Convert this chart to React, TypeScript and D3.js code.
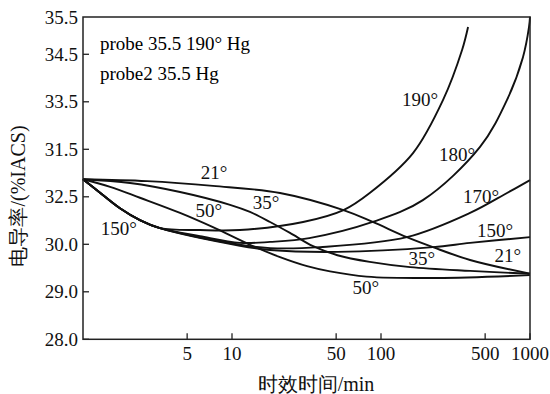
import React from "react";
import * as d3 from "d3";

// x: aging time (min), y: conductivity in the chart's evenly spaced grid units
const t21 = [1, 2.69, 7.45, 21, 56, 88, 149, 223, 396, 1000];
const v21 = [31.37, 31.33, 31.23, 31.08, 30.72, 30.47, 30.15, 29.94, 29.67, 29.38];

const t35 = [1, 2.07, 4.48, 9.7, 13.2, 18, 24.5, 35, 51, 84, 157, 396, 1000];
const v35 = [31.37, 31.29, 31.1, 30.83, 30.68, 30.47, 30.24, 29.96, 29.77, 29.63, 29.52, 29.44, 29.38];

const t50 = [1, 1.52, 2.41, 4.48, 7.45, 13.2, 21, 31.9, 45.5, 80, 238, 1000];
const v50 = [31.37, 31.21, 30.98, 30.66, 30.36, 29.99, 29.73, 29.54, 29.43, 29.32, 29.29, 29.35];

const t150 = [1, 1.24, 1.77, 2.41, 3.29, 11.3, 18, 51, 223, 396, 1000];
const v150 = [31.37, 31.14, 30.76, 30.51, 30.34, 29.97, 29.88, 29.84, 29.94, 30.03, 30.15];

const t170 = [1, 1.24, 1.77, 2.41, 3.29, 11.3, 18, 39, 149, 396, 701, 1000];
const v170 = [31.37, 31.14, 30.76, 30.51, 30.34, 29.99, 29.92, 29.94, 30.15, 30.66, 31.08, 31.35];

const t180 = [1, 1.24, 1.77, 2.41, 3.29, 6.1, 11.3, 18, 33, 88, 191, 462, 701, 897, 985, 1000];
const v180 = [31.37, 31.14, 30.76, 30.51, 30.34, 30.17, 30.03, 30.05, 30.13, 30.47, 30.93, 32.05, 33.04, 33.94, 34.575, 34.79];

const t190 = [1, 1.24, 1.77, 2.41, 3.29, 6.1, 11.3, 30, 56, 84, 164, 261, 350, 384];
const v190 = [31.37, 31.14, 30.76, 30.51, 30.34, 30.3, 30.3, 30.47, 30.72, 31.08, 31.92, 33.04, 34.09, 34.575];

const yTickValues = [28, 29, 30, 31, 32, 33, 34, 34.785];
const yTickLabels = ["28.0", "29.0", "30.0", "32.5", "31.5", "33.5", "34.5", "35.5"];
const xTickValues = [5, 10, 50, 100, 500, 1000];

const labelNames = ["21°", "35°", "50°", "150°", "170°", "180°", "190°", "21°", "35°", "50°", "150°"];
const labelTime = [7.57, 16.9, 7.0, 1.74, 469, 324, 183, 711, 188, 79, 582];
const labelValue = [31.52, 30.89, 30.72, 30.34, 31.0, 31.89, 33.04, 29.77, 29.71, 29.1, 30.28];

const W = 550, H = 394;
const L = 83, R = 530, T = 17, B = 339.3;

export default function App() {
  const x = d3.scaleLog().domain([1, 1000]).range([L, R]);
  const y = d3.scaleLinear().domain([28, 34.785]).range([B, T]);
  const line = d3
    .line<[number, number]>()
    .x((d) => x(d[0]))
    .y((d) => y(d[1]))
    .curve(d3.curveCatmullRom.alpha(0.5));

  const series: [number[], number[]][] = [
    [t21, v21], [t35, v35], [t50, v50], [t150, v150], [t170, v170], [t180, v180], [t190, v190],
  ];

  return (
    <svg width={W} height={H} style={{ position: "absolute", left: 0, top: 0, background: "#fff" }}>
      <text x={100} y={50} fontSize={19} fontFamily="Liberation Serif">probe 35.5 190° Hg</text>
      <text x={100} y={80} fontSize={19} style={{ fontFamily: '"Liberation Serif"' }}>probe2 35.5 Hg</text>
      {yTickValues.map((v, i) => (
        <text key={"y" + v} x={78} y={y(v) + 6.5} textAnchor="end" fontSize={19} fill="#111"
          fontFamily="Liberation Serif">
          {yTickLabels[i]}
        </text>
      ))}
      {xTickValues.map((v) => (
        <text key={"x" + v} x={x(v)} y={360} textAnchor="middle" fontSize={19} fill="#111"
          fontFamily="Liberation Serif">{String(v)}</text>
      ))}
      {labelNames.map((n, i) => (
        <text key={"l" + i} x={x(labelTime[i])} y={y(labelValue[i]) + 6.5} textAnchor="middle"
          fontSize={19} fill="#111" fontFamily="Liberation Serif">{n}</text>
      ))}
      {series.map(([tt, vs], i) => (
        <path key={"p" + i} d={line(tt.map((t, j) => [t, vs[j]] as [number, number])) || ""}
          fill="none" stroke="#111" strokeWidth={1.9} />
      ))}
      <rect x={L} y={T} width={R - L} height={B - T} fill="none" stroke="#222" strokeWidth={1.5} />
      {yTickValues.slice(0, -1).map((v) => (
        <line key={"yt" + v} x1={L} x2={L + 6} y1={y(v)} y2={y(v)} stroke="#222" strokeWidth={1.3} />
      ))}
      {xTickValues.map((v) => (
        <line key={"xt" + v} x1={x(v)} x2={x(v)} y1={B} y2={B - 6} stroke="#222" strokeWidth={1.3} />
      ))}
      <text x={316} y={391} textAnchor="middle" fontSize={20} fill="#111" fontFamily="Liberation Serif">时效时间/min</text>
      <text transform="translate(25,196) rotate(-90)" textAnchor="middle" fontSize={20} fill="#111"
        fontFamily="Liberation Serif">电导率/(%IACS)</text>
    </svg>
  );
}
